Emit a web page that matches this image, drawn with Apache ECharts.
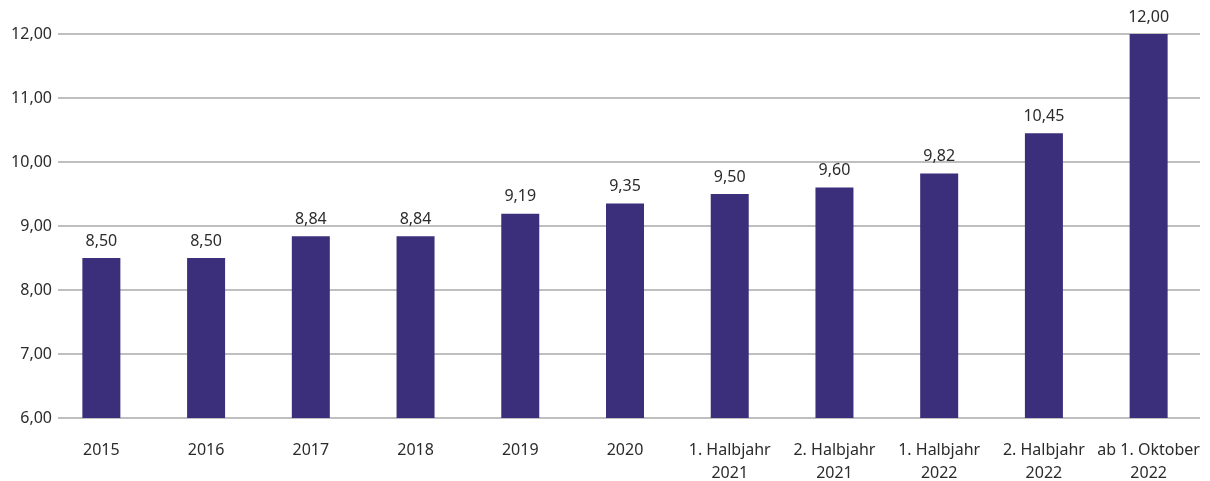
<!DOCTYPE html>
<html><head><meta charset="utf-8">
<script src="https://cdn.jsdelivr.net/npm/echarts@6/dist/echarts.min.js"></script>
<style>html,body{margin:0;padding:0;background:#fff}#c{width:1210px;height:481px}</style>
</head><body><div id="c"></div>
<script>
const categories = ['2015','2016','2017','2018','2019','2020','1. Halbjahr\n2021','2. Halbjahr\n2021','1. Halbjahr\n2022','2. Halbjahr\n2022','ab 1. Oktober\n2022'];
const values = [8.50, 8.50, 8.84, 8.84, 9.19, 9.35, 9.50, 9.60, 9.82, 10.45, 12.00];
const yMin = 6, yMax = 12, yStep = 1;

const fmt = v => Number(v).toFixed(2).replace('.', ',');
const font = '"Noto Sans", sans-serif';
const chart = echarts.init(document.getElementById('c'));
chart.setOption({
  animation: false,
  grid: [
    {left: 58, right: 10, top: 34, bottom: 63, outerBoundsMode: 'none', containLabel: false},
    {left: 49, right: 9, top: 34, bottom: 63, outerBoundsMode: 'none', containLabel: false}
  ],
  xAxis: [
    {gridIndex: 0, type: 'value', show: false},
    {gridIndex: 1, type: 'category', data: categories,
     axisLine: {show: false}, axisTick: {show: false},
     axisLabel: {color: '#2b2b2b', fontFamily: font, fontSize: 16, margin: 21, lineHeight: 23, interval: 0}}
  ],
  yAxis: [
    {gridIndex: 0, type: 'value', min: yMin, max: yMax, interval: yStep,
     axisLine: {show: false}, axisTick: {show: false},
     axisLabel: {color: '#2b2b2b', fontFamily: font, fontSize: 16, margin: 6, formatter: fmt},
     splitLine: {lineStyle: {color: '#aaaaaa', width: 1.5}}},
    {gridIndex: 1, type: 'value', min: yMin, max: yMax, interval: yStep, show: false, splitLine: {show: false}}
  ],
  series: [{
    type: 'bar', xAxisIndex: 1, yAxisIndex: 1, data: values, barWidth: 38,
    itemStyle: {color: '#3b2e7a'},
    label: {show: true, position: 'top', distance: 9, color: '#2b2b2b', fontFamily: font, fontSize: 16, formatter: p => fmt(p.value)}
  }]
});
</script></body></html>
